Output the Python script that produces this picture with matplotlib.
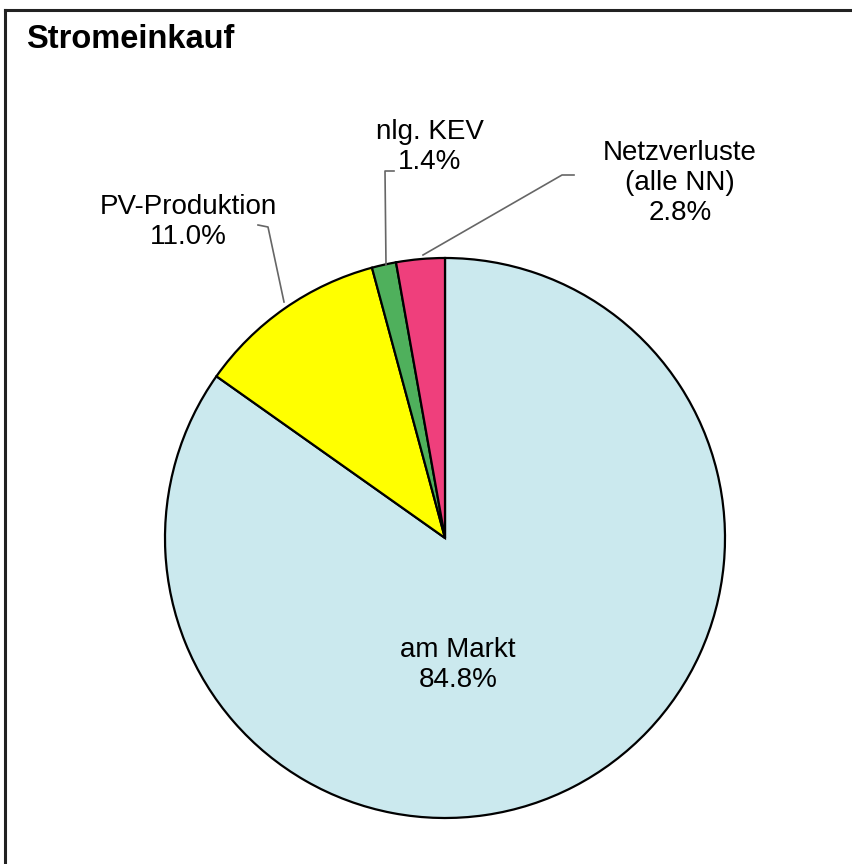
import matplotlib
matplotlib.use("Agg")
import matplotlib.pyplot as plt
from matplotlib.lines import Line2D

plt.rcParams['font.family'] = ['Liberation Sans', 'DejaVu Sans']

title = "Stromeinkauf"
categories = ["am Markt", "PV-Produktion", "nlg. KEV", "Netzverluste\n(alle NN)"]
values = [84.8, 11.0, 1.4, 2.8]
colors = ["#cbe9ee", "#ffff00", "#4fb05c", "#ef3f7c"]

W, H = 853, 864
fig = plt.figure(figsize=(W / 100, H / 100), dpi=100)
ax = fig.add_axes([0, 0, 1, 1])

cx, cy, r = 445, H - 538, 280
wedges, _ = ax.pie(values, colors=colors, startangle=90, counterclock=False,
                   center=(cx, cy), radius=r,
                   wedgeprops=dict(edgecolor="black", linewidth=1.6))
ax.set_xlim(0, W)
ax.set_ylim(0, H)
ax.set_aspect("equal")
ax.axis("off")

# frame lines (top and left)
ax.add_line(Line2D([5, W], [H - 10, H - 10], color="#222222", lw=2.2))
ax.add_line(Line2D([5, 5], [0, H - 10], color="#222222", lw=2.2))

ax.text(26, H - 39, title, fontsize=23.5, fontweight="bold", ha="left", va="center")

fs = 20
ls = 1.2
lc = "#666666"
# am Markt inside
ax.text(458, H - 665, f"{categories[0]}\n{values[0]:.1f}%", fontsize=fs,
        ha="center", va="center", linespacing=ls)

# PV-Produktion
ax.text(188, H - 222, f"{categories[1]}\n{values[1]:.1f}%", fontsize=fs,
        ha="center", va="center", linespacing=ls)
ax.add_line(Line2D([258, 268, 284], [H - 225, H - 227, H - 302], color=lc, lw=1.2))

# nlg. KEV
ax.text(430, H - 147, f"{categories[2]}\n{values[2]:.1f}%", fontsize=fs,
        ha="center", va="center", linespacing=ls)
ax.add_line(Line2D([394, 385, 386], [H - 171, H - 171, H - 265], color=lc, lw=1.2))

# Netzverluste
ax.text(680, H - 183, f"{categories[3]}\n{values[3]:.1f}%", fontsize=fs,
        ha="center", va="center", linespacing=ls)
ax.add_line(Line2D([574, 562, 423], [H - 175, H - 175, H - 255], color=lc, lw=1.2))

fig.savefig("out.png", dpi=100, facecolor="white")
